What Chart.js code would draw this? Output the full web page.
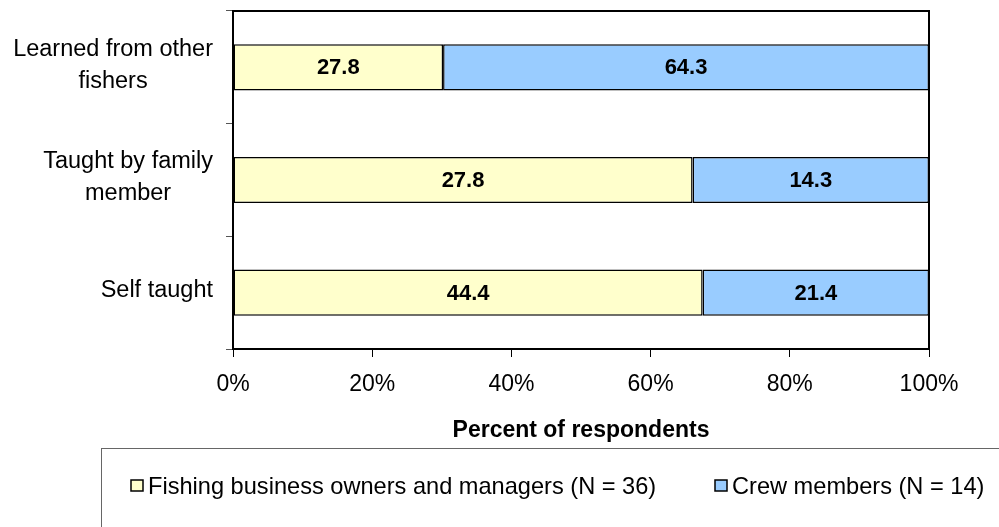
<!DOCTYPE html>
<html>
<head>
<meta charset="utf-8">
<script src="https://cdn.jsdelivr.net/npm/chart.js@4/dist/chart.umd.min.js"></script>
<style>
  html, body { margin: 0; padding: 0; background: #fff; }
  canvas { display: block; }
</style>
</head>
<body>
<canvas id="chart" width="999" height="527"></canvas>
<script>
// data
const categories = [['Learned from other', 'fishers'], ['Taught by family', 'member'], ['Self taught']];
const seriesNames = ['Fishing business owners and managers (N = 36)', 'Crew members (N = 14)'];
const ownersValues = [27.8, 27.8, 44.4];
const crewValues = [64.3, 14.3, 21.4];
const xTicks = [0, 20, 40, 60, 80, 100];
const axisTitle = 'Percent of respondents';

const FONT = '"Liberation Sans", Arial, sans-serif';
const colors = ['#FFFFCC', '#99CCFF'];
const rawSeries = [ownersValues, crewValues];

// 100% stacked: each bar is scaled to its row total, labels keep the raw numbers
const totals = ownersValues.map((v, i) => v + crewValues[i]);
const toPct = arr => arr.map((v, i) => v / totals[i] * 100);

const labelsPlugin = {
  id: 'labelsPlugin',
  afterDatasetsDraw(chart) {
    const ctx = chart.ctx;
    ctx.save();
    ctx.fillStyle = '#000';
    ctx.font = 'bold 22px ' + FONT;
    ctx.textAlign = 'center';
    ctx.textBaseline = 'middle';
    chart.data.datasets.forEach((ds, di) => {
      chart.getDatasetMeta(di).data.forEach((bar, i) => {
        ctx.fillText(rawSeries[di][i].toFixed(1), (bar.x + bar.base) / 2, bar.y + 1);
      });
    });
    ctx.restore();
  },
  afterDraw(chart) {
    const ctx = chart.ctx;
    const area = chart.chartArea;
    const yScale = chart.scales.y;
    ctx.save();

    // top and right edges of the plot frame
    ctx.strokeStyle = '#000';
    ctx.lineWidth = 2;
    ctx.beginPath();
    ctx.moveTo(area.left, area.top);
    ctx.lineTo(area.right, area.top);
    ctx.lineTo(area.right, area.bottom);
    ctx.stroke();

    // category labels: block right aligned, lines centred inside it
    ctx.fillStyle = '#000';
    ctx.font = '23.5px ' + FONT;
    ctx.textAlign = 'center';
    ctx.textBaseline = 'middle';
    const lineH = 32;
    categories.forEach((lines, i) => {
      const cy = yScale.getPixelForValue(i) - 2;
      const w = Math.max(...lines.map(l => ctx.measureText(l).width));
      const cx = area.left - 20 - w / 2;
      const y0 = cy - (lines.length - 1) * lineH / 2;
      lines.forEach((l, k) => ctx.fillText(l, cx, y0 + k * lineH));
    });

    // x axis title
    ctx.font = 'bold 23px ' + FONT;
    ctx.fillText(axisTitle, (area.left + area.right) / 2, 431);

    // legend box
    ctx.strokeStyle = '#666';
    ctx.lineWidth = 1;
    ctx.strokeRect(101.5, 448.5, 1000, 100);
    const itemX = [131, 715];
    ctx.font = '23.6px ' + FONT;
    ctx.textAlign = 'left';
    chart.data.datasets.forEach((ds, di) => {
      ctx.fillStyle = ds.backgroundColor;
      ctx.fillRect(itemX[di], 480, 12, 11);
      ctx.strokeStyle = '#000';
      ctx.lineWidth = 1.5;
      ctx.strokeRect(itemX[di], 480, 12, 11);
      ctx.fillStyle = '#000';
      ctx.fillText(ds.label, itemX[di] + 17, 487);
    });
    ctx.restore();
  }
};

new Chart(document.getElementById('chart'), {
  type: 'bar',
  data: {
    labels: categories.map(l => l.join(' ')),
    datasets: [
      { label: seriesNames[0], data: toPct(ownersValues), backgroundColor: colors[0] },
      { label: seriesNames[1], data: toPct(crewValues), backgroundColor: colors[1] }
    ]
  },
  options: {
    indexAxis: 'y',
    responsive: false,
    animation: false,
    layout: { padding: { top: 11, right: 70, left: 0, bottom: 0 } },
    datasets: {
      bar: {
        borderColor: '#000',
        borderWidth: 1.5,
        borderSkipped: false,
        categoryPercentage: 1,
        barPercentage: 0.41
      }
    },
    plugins: { legend: { display: false }, tooltip: { enabled: false } },
    scales: {
      x: {
        stacked: true,
        min: 0,
        max: 100,
        afterBuildTicks: s => { s.ticks = xTicks.map(v => ({ value: v })); },
        ticks: {
          callback: v => v + '%',
          color: '#000',
          font: { family: FONT, size: 23 },
          padding: 14,
          maxRotation: 0
        },
        grid: { drawOnChartArea: false, drawTicks: true, tickLength: 8, color: '#000', lineWidth: 1 },
        border: { color: '#000', width: 2 },
        afterFit: s => { s.height = 178; }
      },
      y: {
        stacked: true,
        ticks: { display: false },
        grid: { offset: true, drawOnChartArea: false, drawTicks: true, tickLength: 7, color: '#555', lineWidth: 1 },
        border: { color: '#000', width: 2 },
        afterFit: s => { s.width = 233; }
      }
    }
  },
  plugins: [labelsPlugin]
});
</script>
</body>
</html>
